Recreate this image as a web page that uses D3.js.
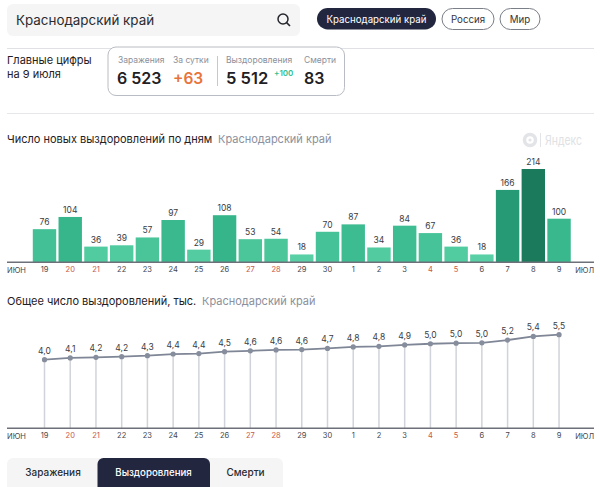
<!DOCTYPE html>
<html>
<head>
<meta charset="utf-8">
<script src="https://cdn.jsdelivr.net/npm/d3@7"></script>
<style>
  html, body { margin: 0; padding: 0; background: #fff; overflow: hidden; }
  text { font-family: Inter, Roboto, sans-serif; }
</style>
</head>
<body>
<svg width="600" height="487"></svg>
<script>
var days = ["19","20","21","22","23","24","25","26","27","28","29","30","1","2","3","4","5","6","7","8","9"];
var weekends = ["20","21","27","28","4","5"];
var newRecovered = [76,104,36,39,57,97,29,108,53,54,18,70,87,34,84,67,36,18,166,214,100];
var totalRecovered = [4041,4145,4181,4220,4277,4374,4403,4511,4564,4618,4636,4706,4793,4827,4911,4978,5014,5032,5198,5412,5512];
var colorStops = [18,70,108,166,214];
var colorRange = ["#58cfa4","#45c297","#36b58a","#269a74","#1c7a5c"];

var svg = d3.select("svg");
var dark = "#22263f", ink = "#1f2024", grey = "#8b909c";

function label(x, y, str, size, color, weight, anchor){
    return svg.append("text")
        .attr("x", x).attr("y", y)
        .attr("font-size", size)
        .attr("fill", color)
        .attr("font-weight", weight || 400)
        .attr("text-anchor", anchor || "start")
        .text(str);
}

// search box
svg.append("rect").attr("x",7).attr("y",4).attr("width",293).attr("height",32).attr("rx",6).attr("fill","#f5f5f6");
label(16, 24.5, "Краснодарский край", 13.4, "#2a2b30");
svg.append("circle").attr("cx",283).attr("cy",19).attr("r",5).attr("fill","none").attr("stroke","#25262b").attr("stroke-width",1.5);
svg.append("line").attr("x1",286.6).attr("y1",22.6).attr("x2",290).attr("y2",26).attr("stroke","#25262b").attr("stroke-width",1.6);

// region pills
svg.append("rect").attr("x",317).attr("y",8).attr("width",119).attr("height",21.5).attr("rx",10.7).attr("fill",dark);
label(376.5, 22.5, "Краснодарский край", 9.7, "#fff", 400, "middle");
[[442,52,"Россия"],[500,40,"Мир"]].forEach(function(p){
    svg.append("rect").attr("x",p[0]).attr("y",8.5).attr("width",p[1]).attr("height",21).attr("rx",10.5)
        .attr("fill","#fff").attr("stroke","#7b7f88");
    label(p[0]+p[1]/2, 22.5, p[2], 9.7, "#33353c", 400, "middle");
});

// separators
svg.append("line").attr("x1",7).attr("x2",594).attr("y1",48.5).attr("y2",48.5).attr("stroke","#dfe1e5");
svg.append("line").attr("x1",7).attr("x2",594).attr("y1",113.5).attr("y2",113.5).attr("stroke","#e6e7ea").attr("stroke-width",1.2);

// headline numbers
label(7, 64, "Главные цифры", 11, ink);
label(7, 78, "на 9 июля", 11, ink);
svg.append("rect").attr("x",108).attr("y",47).attr("width",236.5).attr("height",48.5).attr("rx",8)
    .attr("fill","#fff").attr("stroke","#b9bcc4");
svg.append("line").attr("x1",217.5).attr("x2",217.5).attr("y1",56).attr("y2",86).attr("stroke","#c6c9cf");
label(118, 63, "Заражения", 8.5, grey);
label(173, 63, "За сутки", 8.5, grey);
label(226, 63, "Выздоровления", 8.5, grey);
label(304, 63, "Смерти", 8.5, grey);
label(117, 84, "6 523", 16, ink, 600);
label(173, 84, "+63", 15.5, "#e8743b", 600);
label(226, 84, "5 512", 16.5, ink, 600);
label(274, 76, "+100", 8, "#2fbf8f", 600);
label(304, 84, "83", 16, ink, 600);

// watermark
svg.append("circle").attr("cx",530).attr("cy",140).attr("r",5.5).attr("fill","none").attr("stroke","#e3e4e7").attr("stroke-width",3.5);
svg.append("circle").attr("cx",530).attr("cy",140).attr("r",1.6).attr("fill","#e3e4e7");
svg.append("line").attr("x1",540.5).attr("x2",540.5).attr("y1",133).attr("y2",147).attr("stroke","#e3e4e7");
label(545, 145, "Яндекс", 13, "#e0e1e4")
    .attr("textLength",37).attr("lengthAdjust","spacingAndGlyphs");

// shared x scale
var x = d3.scaleBand().domain(days).range([31.64, 571.9]).paddingInner(0.09).paddingOuter(0.045);

function drawAxis(baseY, labelY){
    var axis = svg.append("g").attr("transform", "translate(0," + baseY + ")")
        .call(d3.axisBottom(x).tickSize(0).tickPadding(labelY));
    axis.select(".domain").remove();
    axis.selectAll("text")
        .attr("font-size", 7.5)
        .attr("font-family", "Inter, Roboto, sans-serif")
        .attr("fill", function(d){ return weekends.indexOf(d) >= 0 ? "#c9574a" : "#44464d"; });
    svg.append("line").attr("x1",7).attr("x2",594).attr("y1",baseY).attr("y2",baseY)
        .attr("stroke","#6d7078").attr("stroke-width",1.4);
    label(7, baseY + labelY + 7, "ИЮН", 7.5, "#44464d");
    label(594, baseY + labelY + 7, "ИЮЛ", 7.5, "#44464d", 400, "end");
}

// new recoveries bars
label(7, 143, "Число новых выздоровлений по дням", 11, ink, 400);
label(218, 143, "Краснодарский край", 11, grey);

var barBase = 262.3;
var yBar = d3.scaleLinear().domain([0,214]).range([barBase,169]);
var barColor = d3.scaleLinear().domain(colorStops).range(colorRange);

svg.append("g").selectAll("rect").data(newRecovered).enter().append("rect")
    .attr("x", function(d,i){ return x(days[i]); })
    .attr("y", function(d){ return yBar(d); })
    .attr("width", x.bandwidth())
    .attr("height", function(d){ return barBase - yBar(d); })
    .attr("fill", function(d){ return barColor(d); });

svg.append("g").selectAll("text").data(newRecovered).enter().append("text")
    .attr("x", function(d,i){ return x(days[i]) + x.bandwidth()/2; })
    .attr("y", function(d){ return yBar(d) - 4; })
    .attr("text-anchor","middle")
    .attr("font-size",8.5)
    .attr("fill","#3a3c42")
    .text(function(d){ return d; });

drawAxis(barBase, 4);

// total recoveries line
label(7, 305, "Общее число выздоровлений, тыс.", 11, ink, 400);
label(202, 305, "Краснодарский край", 11, grey);

var lineBase = 428.3;
var yLine = d3.scaleLinear().domain([0,5512]).range([lineBase,334.7]);
var cx = function(i){ return x(days[i]) + x.bandwidth()/2; };

svg.append("g").selectAll("line").data(totalRecovered).enter().append("line")
    .attr("x1", function(d,i){ return cx(i); })
    .attr("x2", function(d,i){ return cx(i); })
    .attr("y1", function(d){ return yLine(d); })
    .attr("y2", lineBase)
    .attr("stroke","#d0d3d9")
    .attr("stroke-width",1.5);

svg.append("path").datum(totalRecovered)
    .attr("fill","none")
    .attr("stroke","#7f8696")
    .attr("stroke-width",1.8)
    .attr("d", d3.line().x(function(d,i){ return cx(i); }).y(function(d){ return yLine(d); }));

svg.append("g").selectAll("circle").data(totalRecovered).enter().append("circle")
    .attr("cx", function(d,i){ return cx(i); })
    .attr("cy", function(d){ return yLine(d); })
    .attr("r",2.6)
    .attr("fill","#868d9c");

svg.append("g").selectAll("text").data(totalRecovered).enter().append("text")
    .attr("x", function(d,i){ return cx(i); })
    .attr("y", function(d){ return yLine(d) - 6; })
    .attr("text-anchor","middle")
    .attr("font-size",8.5)
    .attr("fill","#3a3c42")
    .text(function(d){ return (d/1000).toFixed(1).replace(".",","); });

drawAxis(lineBase, 4);

// bottom tabs
svg.append("rect").attr("x",7).attr("y",458).attr("width",276).attr("height",40).attr("rx",6).attr("fill","#f5f5f6");
svg.append("rect").attr("x",97.5).attr("y",458).attr("width",112.5).attr("height",40).attr("rx",6).attr("fill",dark);
label(53, 476, "Заражения", 10, "#2a2b30", 500, "middle");
label(153.5, 476, "Выздоровления", 9.7, "#fff", 500, "middle");
label(245.5, 476, "Смерти", 10, "#2a2b30", 500, "middle");
</script>
</body>
</html>
